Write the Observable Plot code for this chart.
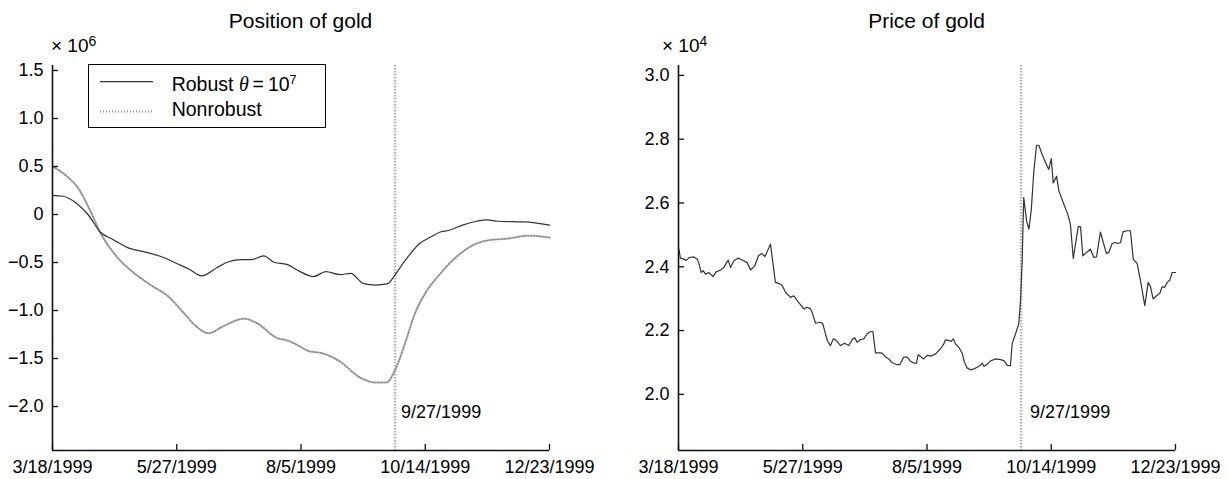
<!DOCTYPE html>
<html><head><meta charset="utf-8">
<script src="https://cdn.jsdelivr.net/npm/d3@7"></script>
<script src="https://cdn.jsdelivr.net/npm/@observablehq/plot@0.6"></script>
<style>
body{margin:0;background:#fff;}
#wrap{position:relative;width:1228px;height:479px;font-family:"Liberation Sans",Arial,sans-serif;color:#000;overflow:hidden;}
.panel{position:absolute;top:0;}
.ov{position:absolute;white-space:nowrap;line-height:1;}
.sup{position:relative;}
#legend{position:absolute;left:88px;top:64px;width:238px;height:64px;border:1px solid #000;box-sizing:border-box;background:#fff;}
#legend svg{position:absolute;left:0;top:0;}
</style></head><body>
<div id="wrap">
  <div class="panel" id="left" style="left:0"></div>
  <div class="panel" id="right" style="left:614px"></div>
  <div class="ov" style="left:300.5px;top:10.2px;font-size:21px;transform:translateX(-50%)">Position of gold</div>
  <div class="ov" style="left:926.5px;top:10px;font-size:21px;transform:translateX(-50%)">Price of gold</div>
  <div class="ov" style="left:51px;top:36.2px;font-size:19px">× 10<span class="sup" style="font-size:14px;top:-6px">6</span></div>
  <div class="ov" style="left:662px;top:36.2px;font-size:19px">× 10<span class="sup" style="font-size:14px;top:-6px">4</span></div>
  <div id="legend">
    <svg width="236" height="62">
      <line x1="11" x2="64" y1="16.7" y2="16.7" stroke="#333" stroke-width="1.2"></line>
      <line x1="11" x2="64" y1="46.5" y2="46.5" stroke="#909090" stroke-width="2" stroke-dasharray="1,2"></line>
    </svg>
    <div class="ov" style="left:82.7px;top:8.5px;font-size:19.5px">Robust <i style="font-family:'Liberation Serif',serif;font-size:20px">θ</i>&thinsp;=&thinsp;10<span class="sup" style="font-size:12.5px;top:-6.5px">7</span></div>
    <div class="ov" style="left:82.7px;top:35.2px;font-size:19.5px">Nonrobust</div>
  </div>
</div>
<script>
// ---------- data ----------
const START = "1999-03-18";           // day 0
const EVENT_DAY = 193;                 // 9/27/1999
const EVENT_LABEL = "9/27/1999";
const xTickDays = [0, 70, 140, 210, 280];
const xTickLabels = ["3/18/1999", "5/27/1999", "8/5/1999", "10/14/1999", "12/23/1999"];
const posTicks = [-2.0, -1.5, -1.0, -0.5, 0, 0.5, 1.0, 1.5];
const priceTicks = [2.0, 2.2, 2.4, 2.6, 2.8, 3.0];

// Position of gold (x 10^6)
const robustDays = [0,6,14,20,27,34,43,52,63,70,77,84,93,98,106,112,119,125,132,139,147,154,162,168,175,182,189,192,199,207,213,219,223,231,239,245,251,266,280];
const robustValues = [0.20,0.19,0.11,0.00,-0.185,-0.26,-0.35,-0.39,-0.45,-0.51,-0.57,-0.64,-0.55,-0.50,-0.47,-0.47,-0.43,-0.50,-0.52,-0.59,-0.647,-0.595,-0.626,-0.613,-0.717,-0.735,-0.72,-0.654,-0.47,-0.30,-0.235,-0.18,-0.167,-0.11,-0.07,-0.056,-0.07,-0.077,-0.11];
const nonrobustDays = [0,8,15,21,27,36,46,55,65,74,81,88,96,108,115,127,132,139,144,152,161,174,182,188,193,199,204,210,218,227,238,245,257,268,280];
const nonrobustValues = [0.50,0.40,0.26,0.05,-0.19,-0.435,-0.61,-0.73,-0.85,-1.027,-1.166,-1.236,-1.166,-1.085,-1.13,-1.29,-1.31,-1.37,-1.42,-1.445,-1.52,-1.705,-1.75,-1.75,-1.62,-1.32,-1.04,-0.82,-0.626,-0.45,-0.31,-0.27,-0.25,-0.22,-0.24];

// Price of gold (x 10^4)
const priceDays = [0.2,1.1,3.0,4.3,6.2,8.6,10.5,11.4,12.8,13.9,15.2,17.1,19.5,21.2,23.7,25.5,28.0,29.3,31.2,33.4,35.9,38.7,40.6,43.0,45.0,46.8,48.7,51.8,54.6,56.5,58.4,60.3,63.1,65.0,66.9,70.6,72.5,74.4,75.3,77.2,80.0,81.3,83.8,85.6,87.2,88.5,91.3,93.5,95.9,98.2,99.3,100.7,102.5,104.4,106.3,108.2,109.5,111.0,113.2,114.8,116.6,118.5,120.4,123.2,124.7,126.9,128.8,130.7,132.6,134.1,135.0,138.2,140.1,142.4,144.8,147.6,149.5,150.4,152.3,153.6,154.8,156.1,157.9,159.8,161.1,162.6,164.5,166.4,168.3,170.1,171.1,172.0,173.9,175.8,178.6,181.4,183.3,185.2,187.0,188.0,189.9,191.7,192.7,193.6,194.5,196.1,197.4,198.7,200.2,201.7,203.0,204.9,206.8,208.6,210.0,211.1,213.0,214.3,217.1,219.3,220.8,222.4,225.2,226.5,227.8,229.9,232.1,234.0,235.5,237.7,239.3,241.1,242.4,244.3,246.2,247.5,249.0,250.5,252.8,254.6,256.2,258.4,260.3,262.7,264.6,265.9,267.4,269.3,271.2,272.5,273.8,275.3,276.8,278.1,280.0];
const priceValues = [2.455,2.427,2.424,2.420,2.429,2.431,2.424,2.413,2.382,2.388,2.377,2.382,2.369,2.384,2.390,2.398,2.421,2.398,2.419,2.427,2.421,2.413,2.390,2.403,2.434,2.442,2.432,2.471,2.351,2.348,2.341,2.320,2.304,2.309,2.294,2.268,2.273,2.268,2.257,2.223,2.226,2.221,2.169,2.153,2.174,2.171,2.153,2.160,2.153,2.174,2.177,2.163,2.172,2.174,2.190,2.197,2.197,2.130,2.130,2.129,2.117,2.111,2.099,2.093,2.093,2.117,2.117,2.104,2.098,2.098,2.124,2.111,2.122,2.120,2.127,2.143,2.158,2.171,2.169,2.166,2.174,2.158,2.148,2.129,2.101,2.083,2.077,2.080,2.085,2.091,2.098,2.088,2.094,2.105,2.111,2.109,2.106,2.091,2.090,2.160,2.190,2.221,2.294,2.419,2.617,2.544,2.518,2.575,2.700,2.781,2.781,2.752,2.726,2.705,2.739,2.663,2.684,2.638,2.596,2.565,2.533,2.426,2.526,2.525,2.434,2.445,2.455,2.429,2.431,2.509,2.476,2.442,2.445,2.473,2.476,2.473,2.476,2.510,2.513,2.513,2.424,2.410,2.356,2.278,2.351,2.338,2.299,2.309,2.317,2.338,2.335,2.351,2.358,2.382,2.382];

// ---------- helpers ----------
const start = new Date(START + "T00:00:00Z");
const toDate = d => new Date(start.getTime() + d * 864e5);
const series = (days, vals) => days.map((d, i) => ({date: toDate(d), value: vals[i]}));
const xTicks = xTickDays.map(toDate);
const xLabel = new Map(xTicks.map((d, i) => [+d, xTickLabels[i]]));
const eventDate = toDate(EVENT_DAY);

const W = 614, H = 479, MT = 65, MB = 29;
const frameH = H - MT - MB;
const font = "'Liberation Sans', Arial, sans-serif";

function panel({marginLeft, marginRight, yDomain, yTicks, yFormat, lines, labelDx}) {
  const frameW = W - marginLeft - marginRight;
  return Plot.plot({
    width: W, height: H, marginLeft, marginRight, marginTop: MT, marginBottom: MB,
    style: {fontFamily: font, fontSize: "18px", color: "#000", background: "transparent", overflow: "visible"},
    x: {type: "utc", domain: [toDate(0), toDate(280)]},
    y: {domain: yDomain},
    marks: [
      Plot.ruleX([eventDate], {stroke: "#b0b0b0", strokeWidth: 2.5, strokeDasharray: "1.5,1.5"}),
      Plot.text([EVENT_LABEL], {x: eventDate, frameAnchor: "bottom", dy: -38, dx: labelDx, textAnchor: "start", lineAnchor: "middle", fill: "#000"}),
      ...lines,
      Plot.axisX(xTicks, {tickSize: 0, tickPadding: 10, tickFormat: d => xLabel.get(+d), label: null, fontSize: 18}),
      Plot.axisY(yTicks, {tickSize: 0, tickPadding: 9, tickFormat: yFormat, label: null, fontSize: 18}),
      Plot.tickX(xTicks, {x: d => d, insetTop: frameH - 6, stroke: "#111", strokeWidth: 1.3}),
      Plot.tickY(yTicks, {y: d => d, insetRight: frameW - 6, stroke: "#111", strokeWidth: 1.3}),
      Plot.ruleX([toDate(0)], {stroke: "#111", strokeWidth: 1.6}),
      Plot.ruleY([yDomain[0]], {stroke: "#111", strokeWidth: 1.6})
    ]
  });
}

const posFmt = d => d === 0 ? "0" : d3.format(".1f")(d);
const left = panel({
  marginLeft: 52, marginRight: 65,
  yDomain: [-2.458, 1.552], yTicks: posTicks, yFormat: posFmt, labelDx: 6,
  lines: [
    Plot.line(series(nonrobustDays, nonrobustValues), {x: "date", y: "value", curve: "monotone-x", stroke: "#909090", strokeWidth: 2, strokeDasharray: "1,2"}),
    Plot.line(series(robustDays, robustValues), {x: "date", y: "value", curve: "monotone-x", stroke: "#333", strokeWidth: 1.2})
  ]
});
const right = panel({
  marginLeft: 64, marginRight: 53,
  yDomain: [1.824, 3.031], yTicks: priceTicks, yFormat: d3.format(".1f"), labelDx: 9,
  lines: [
    Plot.line(series(priceDays, priceValues), {x: "date", y: "value", stroke: "#333", strokeWidth: 1.2})
  ]
});
document.getElementById("left").appendChild(left);
document.getElementById("right").appendChild(right);
</script>
</body></html>
